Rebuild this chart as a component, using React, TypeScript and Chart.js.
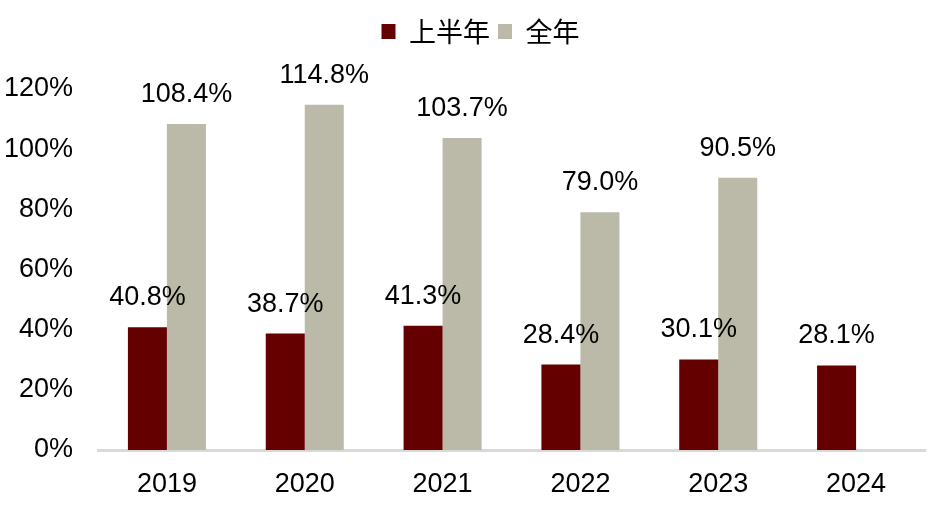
import React, { useEffect, useRef } from "react";
import { Chart, registerables } from "chart.js";

Chart.register(...registerables);

const categories = ["2019", "2020", "2021", "2022", "2023", "2024"];
const firstHalf = [40.8, 38.7, 41.3, 28.4, 30.1, 28.1];
const fullYear: (number | null)[] = [108.4, 114.8, 103.7, 79.0, 90.5, null];
const seriesNames = ["上半年", "全年"];
const yTicks = [0, 20, 40, 60, 80, 100, 120];

const FONT = "'Liberation Sans', Arial, 'Noto Sans CJK SC', sans-serif";
const RED = "#640000";
const GRAY = "#BBBAA8";

const valueLabels = {
  id: "valueLabels",
  afterDatasetsDraw(chart: any) {
    const ctx = chart.ctx;
    ctx.save();
    ctx.font = `27px ${FONT}`;
    ctx.fillStyle = "#000";
    ctx.textAlign = "center";
    ctx.textBaseline = "alphabetic";
    chart.data.datasets.forEach((ds: any, di: number) => {
      const meta = chart.getDatasetMeta(di);
      meta.data.forEach((bar: any, i: number) => {
        const v = ds.data[i];
        if (v === null || v === undefined) return;
        ctx.fillText(v.toFixed(1) + "%", bar.x, bar.y - 22);
      });
    });
    ctx.restore();
  },
};

const legendShift = {
  id: "legendShift",
  afterLayout(chart: any) {
    const lg = chart.legend;
    if (lg) {
      lg.left += 18;
      lg.right += 18;
      lg.top -= 34;
      lg.bottom -= 34;
    }
  },
};

export default function App() {
  const ref = useRef<HTMLCanvasElement>(null);
  useEffect(() => {
    document.body.style.margin = "0";
    const chart = new Chart(ref.current!, {
      type: "bar",
      data: {
        labels: categories,
        datasets: [
          { label: seriesNames[0], data: firstHalf, backgroundColor: RED },
          { label: seriesNames[1], data: fullYear as any, backgroundColor: GRAY },
        ],
      },
      options: {
        animation: false,
        responsive: true,
        maintainAspectRatio: false,
        layout: { padding: { top: 44, right: 20, left: 0, bottom: 0 } },
        datasets: {
          bar: { categoryPercentage: 0.566, barPercentage: 1 },
        },
        plugins: {
          legend: {
            position: "top",
            labels: {
              boxWidth: 14,
              boxHeight: 15,
              padding: 8,
              color: "#000",
              font: { family: "'Noto Sans CJK SC', sans-serif", size: 27, weight: "normal" },
            },
          },
          tooltip: { enabled: false },
        },
        scales: {
          x: {
            grid: { display: false, drawTicks: false },
            border: { display: true, color: "#d9d9d9", width: 3 },
            ticks: { color: "#000", padding: 18, font: { family: FONT, size: 27 } },
            afterFit(axis: any) {
              axis.height = 58;
            },
          },
          y: {
            min: 0,
            max: 120,
            afterBuildTicks(axis: any) {
              axis.ticks = yTicks.map((v) => ({ value: v }));
            },
            grid: { display: false, drawTicks: false },
            border: { display: false },
            ticks: {
              color: "#000",
              padding: 25,
              font: { family: FONT, size: 27 },
              callback: (v: any) => v + "%",
            },
            afterFit(axis: any) {
              axis.width = 98;
            },
          },
        },
      },
      plugins: [valueLabels, legendShift],
    });
    return () => chart.destroy();
  }, []);
  return (
    <div style={{ width: 945, height: 508, position: "relative" }}>
      <canvas ref={ref} />
    </div>
  );
}
